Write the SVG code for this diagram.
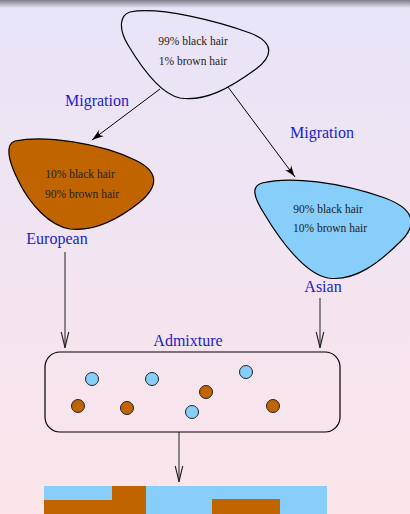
<svg xmlns="http://www.w3.org/2000/svg" width="410" height="514" viewBox="0 0 410 514">
<defs>
<linearGradient id="bg" x1="0" y1="0" x2="0" y2="1">
<stop offset="0" stop-color="#e8e4f8"/>
<stop offset="1" stop-color="#fce4ea"/>
</linearGradient>
<linearGradient id="topbar" x1="0" y1="0" x2="0" y2="1">
<stop offset="0" stop-color="#807c88"/>
<stop offset="1" stop-color="#e8e4f8"/>
</linearGradient>
<marker id="ahf" markerUnits="userSpaceOnUse" markerWidth="16" markerHeight="10" viewBox="-14 -5 16 10" refX="0" refY="0" orient="auto">
<path d="M -12,-4 Q -4,-1 0,0 Q -4,1 -12,4 Q -6,0 -12,-4 Z" fill="#000"/>
</marker>
<marker id="aho" markerUnits="userSpaceOnUse" markerWidth="20" markerHeight="10" viewBox="-18 -5 20 10" refX="0" refY="0" orient="auto">
<path d="M -16,-3.8 Q -5,-1 0,0 Q -5,1 -16,3.8" fill="none" stroke="#222" stroke-width="1.1"/>
</marker>
</defs>
<style>
.blob{stroke:#000;stroke-width:1.2}
.t{font-family:"Liberation Serif",serif;font-size:11.5px;fill:#222;text-anchor:middle}
.lbl{font-family:"Liberation Serif",serif;font-size:16px;fill:#1c1cc8;text-anchor:middle}
.con{stroke:#000;stroke-width:1;fill:none}
.vcon{stroke:#333;stroke-width:1.1;fill:none}
.b{fill:#87cefa;stroke:#222;stroke-width:1}
.r{fill:#c06400;stroke:#222;stroke-width:1}
</style>
<rect x="0" y="0" width="410" height="514" fill="url(#bg)"/>
<rect x="0" y="0" width="410" height="8" fill="url(#topbar)"/>

<g id="connectors">
<line class="con" x1="160" y1="89" x2="92" y2="140" marker-end="url(#ahf)"/>
<line class="con" x1="228" y1="87" x2="295" y2="177" marker-end="url(#ahf)"/>
<line class="vcon" x1="65" y1="252" x2="65" y2="348" marker-end="url(#aho)"/>
<line class="vcon" x1="320" y1="298" x2="320" y2="348" marker-end="url(#aho)"/>
<line class="vcon" x1="179" y1="432" x2="179" y2="482" marker-end="url(#aho)"/>
<text class="lbl" x="97" y="106">Migration</text>
<text class="lbl" x="322" y="138">Migration</text>
</g>

<g id="origin">
<path class="blob" fill="none" d="M 130,12 C 160,6 220,22 250,33 C 276,43 272,57 256,69 C 230,88 205,102 180,98 C 160,94 140,65 128,45 C 118,28 120,15 130,12 Z"/>
<text class="t" x="193" y="45">99% black hair</text>
<text class="t" x="193" y="65">1% brown hair</text>
</g>

<g id="european">
<path class="blob" fill="#c06400" d="M 15,141 C 45,135 100,143 135,160 C 158,171 160,185 140,202 C 120,218 95,232 70,229 C 50,226 30,205 18,180 C 8,160 5,144 15,141 Z"/>
<text class="t" x="80" y="178">10% black hair</text>
<text class="t" x="82" y="198">90% brown hair</text>
<text class="lbl" x="57" y="244">European</text>
</g>

<g id="asian">
<path class="blob" fill="#87cefa" d="M 262,183 C 290,176 340,182 385,198 C 417,210 416,226 401,241 C 380,262 355,282 328,278 C 305,274 280,240 265,215 C 252,195 252,186 262,183 Z"/>
<text class="t" x="328" y="213">90% black hair</text>
<text class="t" x="330" y="232">10% brown hair</text>
<text class="lbl" x="323" y="292">Asian</text>
</g>

<g id="admixture">
<text class="lbl" x="188" y="346">Admixture</text>
<rect x="45" y="352" width="295" height="80" rx="15" ry="15" fill="none" stroke="#000" stroke-width="1.2"/>
<circle class="b" cx="92" cy="379" r="6.5"/>
<circle class="b" cx="152" cy="379" r="6.5"/>
<circle class="b" cx="246" cy="372" r="6.5"/>
<circle class="b" cx="192" cy="412" r="6.5"/>
<circle class="r" cx="78" cy="406" r="6.5"/>
<circle class="r" cx="127" cy="408" r="6.5"/>
<circle class="r" cx="206" cy="392" r="6.5"/>
<circle class="r" cx="273" cy="406" r="6.5"/>
</g>

<g id="result">
<rect x="44" y="486" width="283" height="28" fill="#87cefa"/>
<rect x="44" y="500" width="68" height="14" fill="#c06400"/>
<rect x="112" y="486" width="34" height="28" fill="#c06400"/>
<rect x="212" y="499" width="68" height="15" fill="#c06400"/>
</g>
</svg>
